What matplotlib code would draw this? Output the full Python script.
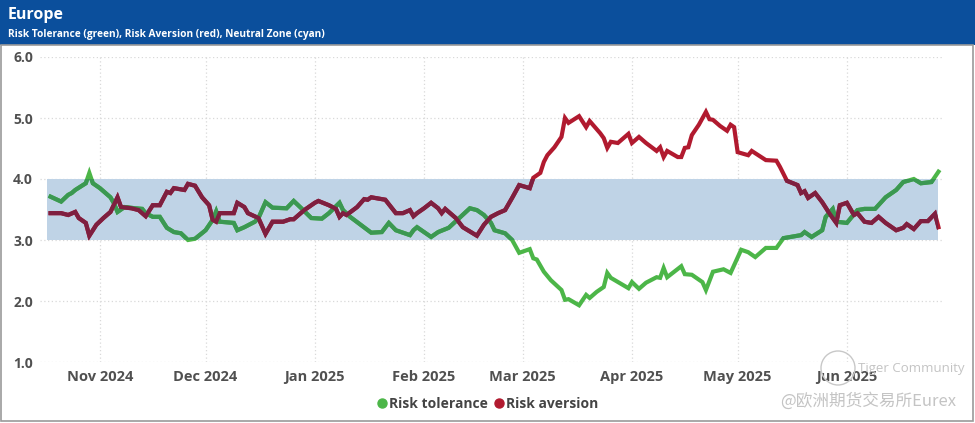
import matplotlib
matplotlib.use("Agg")
import matplotlib.pyplot as plt
import matplotlib.dates as mdates
from matplotlib.patches import Rectangle, Ellipse
from matplotlib.lines import Line2D
import pandas as pd

# risk tolerance (green)
green_dates = [
    "2024-10-18", "2024-10-21", "2024-10-23", "2024-10-24", "2024-10-25", "2024-10-28", "2024-10-29", "2024-10-30",
    "2024-11-01", "2024-11-04", "2024-11-05", "2024-11-06", "2024-11-08", "2024-11-11", "2024-11-13", "2024-11-14",
    "2024-11-16", "2024-11-18", "2024-11-20", "2024-11-22", "2024-11-24", "2024-11-26", "2024-11-28",
    "2024-12-01", "2024-12-03", "2024-12-04", "2024-12-05", "2024-12-09", "2024-12-10", "2024-12-12", "2024-12-15",
    "2024-12-16", "2024-12-18", "2024-12-20", "2024-12-24", "2024-12-26", "2024-12-28", "2024-12-31",
    "2025-01-03", "2025-01-05", "2025-01-08", "2025-01-09", "2025-01-11", "2025-01-14", "2025-01-17", "2025-01-20",
    "2025-01-22", "2025-01-24", "2025-01-28", "2025-01-29", "2025-01-30",
    "2025-02-01", "2025-02-03", "2025-02-05", "2025-02-08", "2025-02-11", "2025-02-14", "2025-02-16", "2025-02-18",
    "2025-02-20", "2025-02-21", "2025-02-24", "2025-02-26", "2025-02-28",
    "2025-03-03", "2025-03-04", "2025-03-05", "2025-03-07", "2025-03-09", "2025-03-12", "2025-03-13", "2025-03-14",
    "2025-03-17", "2025-03-19", "2025-03-20", "2025-03-22", "2025-03-24", "2025-03-25", "2025-03-26", "2025-03-31",
    "2025-04-01", "2025-04-03", "2025-04-05", "2025-04-08", "2025-04-09", "2025-04-10", "2025-04-11", "2025-04-15",
    "2025-04-16", "2025-04-18", "2025-04-21", "2025-04-22", "2025-04-24", "2025-04-27", "2025-04-29",
    "2025-05-02", "2025-05-04", "2025-05-06", "2025-05-09", "2025-05-12", "2025-05-14", "2025-05-19", "2025-05-20",
    "2025-05-22", "2025-05-25", "2025-05-26", "2025-05-28", "2025-05-29",
    "2025-06-01", "2025-06-04", "2025-06-06", "2025-06-09", "2025-06-12", "2025-06-15", "2025-06-17", "2025-06-20",
    "2025-06-22", "2025-06-25", "2025-06-27",
]
green_values = [
    3.71, 3.63, 3.74, 3.77, 3.82, 3.93, 4.10, 3.93,
    3.85, 3.70, 3.60, 3.46, 3.54, 3.52, 3.51, 3.44, 3.38, 3.38, 3.20, 3.13, 3.11, 3.00, 3.02,
    3.16, 3.33, 3.47, 3.30, 3.28, 3.16, 3.21, 3.30, 3.36, 3.62, 3.53, 3.52, 3.64, 3.53, 3.36,
    3.35, 3.44, 3.61, 3.49, 3.38, 3.25, 3.12, 3.13, 3.28, 3.16, 3.08, 3.16, 3.21,
    3.13, 3.05, 3.13, 3.20, 3.36, 3.52, 3.49, 3.41, 3.28, 3.16, 3.11, 3.00, 2.79,
    2.85, 2.70, 2.68, 2.48, 2.34, 2.18, 2.02, 2.03, 1.93, 2.10, 2.05, 2.15, 2.23, 2.46, 2.38, 2.21,
    2.31, 2.20, 2.30, 2.39, 2.38, 2.54, 2.39, 2.57, 2.44, 2.43, 2.31, 2.18, 2.48, 2.52, 2.46,
    2.84, 2.80, 2.72, 2.87, 2.87, 3.03, 3.08, 3.13, 3.05, 3.16, 3.38, 3.51, 3.30,
    3.28, 3.49, 3.51, 3.51, 3.70, 3.82, 3.95, 4.00, 3.93, 3.95, 4.12,
]

# risk aversion (red)
red_dates = [
    "2024-10-18", "2024-10-21", "2024-10-23", "2024-10-25", "2024-10-26", "2024-10-28", "2024-10-29", "2024-10-31",
    "2024-11-02", "2024-11-04", "2024-11-06", "2024-11-07", "2024-11-10", "2024-11-12", "2024-11-14", "2024-11-16",
    "2024-11-18", "2024-11-20", "2024-11-21", "2024-11-22", "2024-11-25", "2024-11-26", "2024-11-28", "2024-11-30",
    "2024-12-02", "2024-12-03", "2024-12-04", "2024-12-05", "2024-12-09", "2024-12-10", "2024-12-12", "2024-12-13",
    "2024-12-16", "2024-12-18", "2024-12-20", "2024-12-23", "2024-12-25", "2024-12-26", "2024-12-29",
    "2025-01-01", "2025-01-02", "2025-01-05", "2025-01-07", "2025-01-08", "2025-01-09", "2025-01-10", "2025-01-13",
    "2025-01-15", "2025-01-16", "2025-01-17", "2025-01-21", "2025-01-24", "2025-01-26", "2025-01-28", "2025-01-29",
    "2025-01-30",
    "2025-02-01", "2025-02-03", "2025-02-05", "2025-02-06", "2025-02-07", "2025-02-10", "2025-02-12", "2025-02-16",
    "2025-02-18", "2025-02-20", "2025-02-22", "2025-02-24", "2025-02-26", "2025-02-28",
    "2025-03-03", "2025-03-04", "2025-03-06", "2025-03-07", "2025-03-08", "2025-03-10", "2025-03-12", "2025-03-13",
    "2025-03-14", "2025-03-17", "2025-03-19", "2025-03-20", "2025-03-23", "2025-03-24", "2025-03-25", "2025-03-26",
    "2025-03-28", "2025-03-31",
    "2025-04-01", "2025-04-03", "2025-04-05", "2025-04-08", "2025-04-09", "2025-04-10", "2025-04-11", "2025-04-14",
    "2025-04-15", "2025-04-16", "2025-04-17", "2025-04-18", "2025-04-20", "2025-04-22", "2025-04-23", "2025-04-24",
    "2025-04-26", "2025-04-28", "2025-04-29", "2025-04-30",
    "2025-05-01", "2025-05-04", "2025-05-05", "2025-05-09", "2025-05-12", "2025-05-13", "2025-05-15", "2025-05-18",
    "2025-05-19", "2025-05-20", "2025-05-21", "2025-05-23", "2025-05-25", "2025-05-27", "2025-05-29", "2025-05-30",
    "2025-06-01", "2025-06-03", "2025-06-04", "2025-06-06", "2025-06-08", "2025-06-10", "2025-06-12", "2025-06-15",
    "2025-06-17", "2025-06-18", "2025-06-20", "2025-06-22", "2025-06-24", "2025-06-26", "2025-06-27",
]
red_values = [
    3.44, 3.44, 3.41, 3.46, 3.36, 3.28, 3.07, 3.25,
    3.36, 3.46, 3.70, 3.54, 3.52, 3.49, 3.39, 3.57, 3.57, 3.79, 3.77, 3.85, 3.82, 3.92, 3.89, 3.70,
    3.57, 3.33, 3.30, 3.44, 3.44, 3.61, 3.54, 3.44, 3.36, 3.10, 3.30, 3.30, 3.34, 3.34, 3.49,
    3.61, 3.64, 3.57, 3.51, 3.38, 3.44, 3.41, 3.54, 3.67, 3.66, 3.70, 3.66, 3.44, 3.44, 3.49, 3.39, 3.44,
    3.52, 3.61, 3.52, 3.44, 3.51, 3.36, 3.21, 3.07, 3.25, 3.38, 3.44, 3.49, 3.69, 3.90,
    3.85, 4.02, 4.10, 4.28, 4.39, 4.52, 4.69, 5.00, 4.92, 5.03, 4.85, 4.95, 4.75, 4.67, 4.51, 4.61, 4.59, 4.74,
    4.59, 4.69, 4.59, 4.46, 4.52, 4.36, 4.46, 4.36, 4.36, 4.51, 4.52, 4.72, 4.89, 5.10, 4.98, 4.97, 4.87, 4.79,
    4.89, 4.85,
    4.44, 4.39, 4.46, 4.31, 4.30, 4.20, 3.97, 3.90, 3.77, 3.80, 3.69, 3.77, 3.62, 3.44, 3.28, 3.57,
    3.61, 3.41, 3.44, 3.30, 3.28, 3.38, 3.28, 3.16, 3.20, 3.26, 3.18, 3.31, 3.31, 3.43, 3.21,
]

month_ticks = ["2024-11-01", "2024-12-01", "2025-01-01", "2025-02-01", "2025-03-01",
               "2025-04-01", "2025-05-01", "2025-06-01"]
month_labels = ["Nov 2024", "Dec 2024", "Jan 2025", "Feb 2025", "Mar 2025",
                "Apr 2025", "May 2025", "Jun 2025"]
zone_low, zone_high = 3.0, 4.0

plt.rcParams['font.family'] = ['Open Sans', 'DejaVu Sans']

W, H = 975, 423
fig = plt.figure(figsize=(W / 100, H / 100), dpi=100)

# header bar + panel border
fig.patches.append(Rectangle((0, 1 - 45 / H), 1, 45 / H, transform=fig.transFigure,
                             facecolor="#0b4f9c", edgecolor="none", zorder=0))
fig.patches.append(Rectangle((1 / W, 2 / H), (W - 3) / W, (H - 47) / H, transform=fig.transFigure,
                             facecolor="none", edgecolor="#9a9a9a", lw=1.2, zorder=0))
fig.text(8 / W, 1 - 15 / H, "Europe", color="white", fontsize=11.5, fontweight="bold",
         va="center", ha="left")
fig.text(8 / W, 1 - 35 / H, "Risk Tolerance (green), Risk Aversion (red), Neutral Zone (cyan)",
         color="white", fontsize=7.3, fontweight="bold", va="center", ha="left")

ax = fig.add_axes([40 / W, 1 - 362 / H, (942 - 40) / W, (362 - 57) / H])
gd = pd.to_datetime(green_dates)
rd = pd.to_datetime(red_dates)

ax.set_ylim(1, 6)
ax.set_xlim(mdates.date2num(pd.Timestamp("2024-10-15")), mdates.date2num(pd.Timestamp("2025-06-28")))
for s in ax.spines.values():
    s.set_visible(False)
ax.set_yticks([1, 2, 3, 4, 5, 6])
ax.set_yticklabels(["1.0", "2.0", "3.0", "4.0", "5.0", "6.0"])
ax.set_xticks(mdates.date2num(pd.to_datetime(month_ticks)))
ax.set_xticklabels(month_labels)
ax.tick_params(length=0, labelcolor="#505050")
ax.tick_params(axis="x", pad=6, labelsize=10.5)
ax.tick_params(axis="y", pad=5, labelsize=10)
for lab in ax.get_xticklabels() + ax.get_yticklabels():
    lab.set_fontweight("bold")
ax.grid(True, color="#d9d9d9", linestyle=(0, (1, 2)), lw=0.9)
ax.set_axisbelow(True)

# neutral zone band
x0 = mdates.date2num(gd[0]) - 1
x1 = mdates.date2num(gd[-1])
band = Rectangle((x0, zone_low), x1 - x0, zone_high - zone_low, facecolor="#bfd3e6",
                 edgecolor="none", zorder=1)
ax.add_patch(band)

# lines, darker inside the band
ax.plot(gd, green_values, color="#4cb648", lw=3, zorder=3, solid_joinstyle="miter")
ax.plot(rd, red_values, color="#b11a2f", lw=3, zorder=3, solid_joinstyle="miter")
g2, = ax.plot(gd, green_values, color="#3b9852", lw=3, zorder=4, solid_joinstyle="miter")
r2, = ax.plot(rd, red_values, color="#7e1f40", lw=3, zorder=4, solid_joinstyle="miter")
clip = Rectangle((x0, zone_low), x1 - x0, zone_high - zone_low, transform=ax.transData)
g2.set_clip_path(clip)
r2.set_clip_path(clip)

handles = [Line2D([], [], marker="o", ls="none", color="#4cb648", markersize=6.5),
           Line2D([], [], marker="o", ls="none", color="#b11a2f", markersize=6.5)]
leg = fig.legend(handles, ["Risk tolerance", "Risk aversion"], loc="center",
                 bbox_to_anchor=(488 / W, 1 - 404 / H), ncol=2, frameon=False,
                 handlelength=0.6, handletextpad=0.2, columnspacing=0.5,
                 prop={"size": 10, "weight": "bold"})
for t in leg.get_texts():
    t.set_color("#444444")

# watermark
fig.patches.append(Ellipse((838 / W, 1 - 368 / H), 34 / W, 34 / H, transform=fig.transFigure,
                           facecolor="none", edgecolor="#c8c8c8", lw=1))
fig.text(858 / W, 1 - 368 / H, "Tiger Community", color="#c4c4c4", fontsize=9.5,
         va="center", ha="left")
fig.text(956 / W, 1 - 401 / H, "@欧洲期货交易所Eurex", color="#c4c4c4", fontsize=12,
         va="center", ha="right", family=["Noto Sans CJK SC", "DejaVu Sans"])

fig.savefig("out.png", dpi=100)
